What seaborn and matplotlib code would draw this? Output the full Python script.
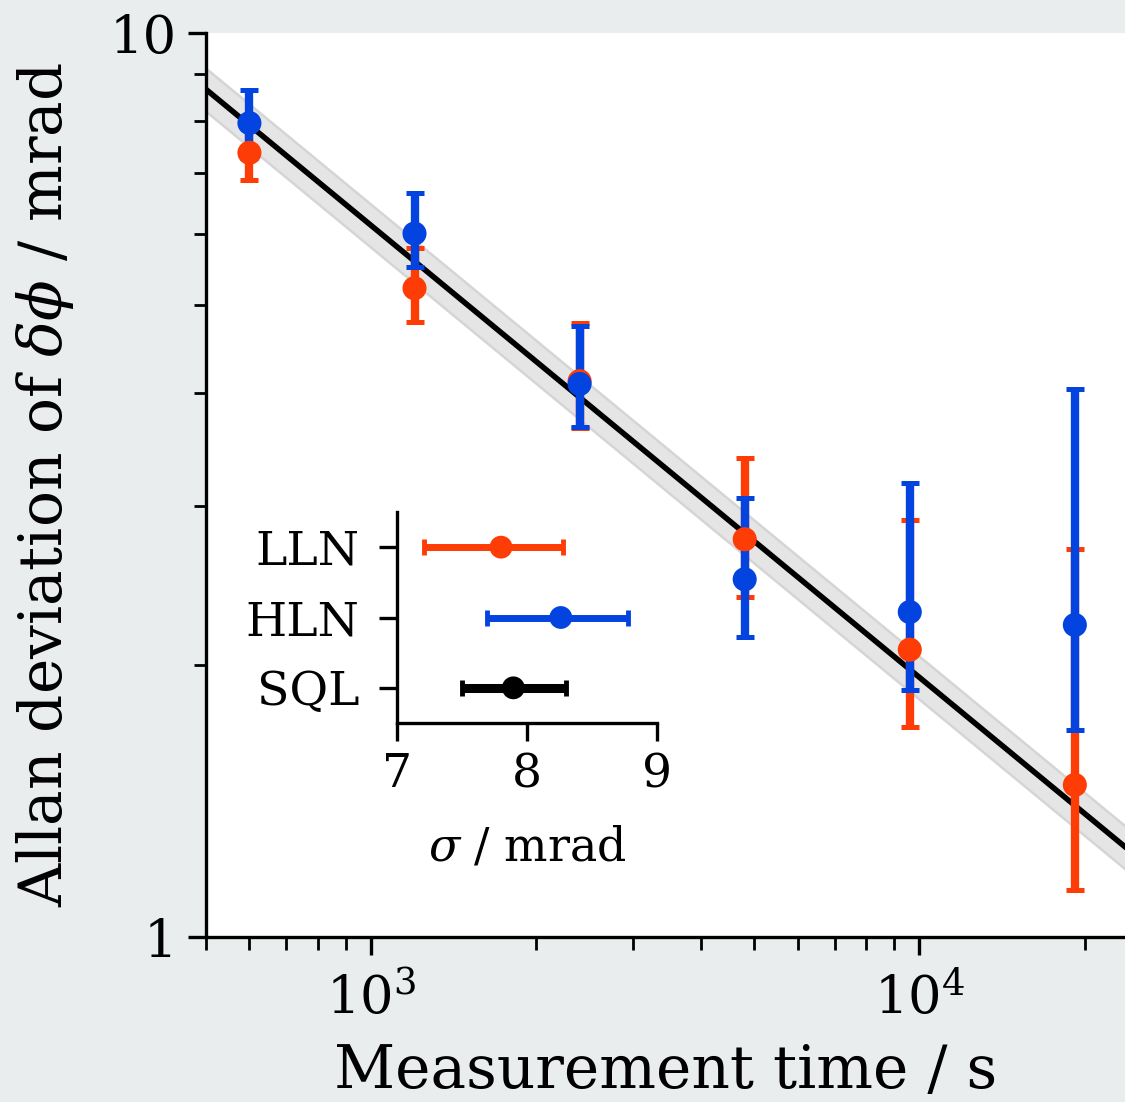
import numpy as np
import pandas as pd
import matplotlib
matplotlib.use("Agg")
import matplotlib.pyplot as plt
import matplotlib.ticker as mticker
import seaborn as sns

# ---------------- data ----------------
times = [600, 1200, 2400, 4800, 9600, 19200]

lln_dev = [7.37, 5.22, 4.12, 2.754, 2.079, 1.473]
lln_lo = [6.88, 4.79, 3.66, 2.380, 1.707, 1.128]
lln_hi = [7.90, 5.78, 4.78, 3.384, 2.892, 2.688]

hln_dev = [7.95, 6.00, 4.09, 2.487, 2.288, 2.214]
hln_lo = [7.28, 5.51, 3.665, 2.149, 1.876, 1.695]
hln_hi = [8.65, 6.65, 4.74, 3.056, 3.180, 4.040]

fit_amp = 193.7      # mrad * s^0.5  (SQL fit  A / sqrt(t))
fit_amp_err = 10.6

inset_labels = ["LLN", "HLN", "SQL"]
inset_sigma = [7.80, 8.26, 7.895]
inset_lo = [7.21, 7.69, 7.50]
inset_hi = [8.28, 8.78, 8.30]

RED = "#fd3c06"
BLUE = "#0343df"
BG = "#e9eded"

# ---------------- style ----------------
sns.set_theme(style="ticks")
plt.rcParams["font.family"] = ["DejaVu Serif"]
plt.rcParams["mathtext.fontset"] = "dejavuserif"
plt.rcParams["axes.linewidth"] = 2.4
plt.rcParams["xtick.major.width"] = 2.4
plt.rcParams["ytick.major.width"] = 2.4
plt.rcParams["xtick.minor.width"] = 2.0
plt.rcParams["ytick.minor.width"] = 2.0
plt.rcParams["axes.edgecolor"] = "black"
plt.rcParams["xtick.color"] = "black"
plt.rcParams["ytick.color"] = "black"
plt.rcParams["text.color"] = "black"
plt.rcParams["axes.labelcolor"] = "black"

fig = plt.figure(figsize=(11.25, 11.02), dpi=100, facecolor=BG)
ax = fig.add_axes([206 / 1125, (1102 - 937) / 1102, (1125 - 206) / 1125, (937 - 33) / 1102])
ax.set_facecolor("white")

# fit line and band
t_fit = np.geomspace(400, 30000, 200)
fit_df = pd.DataFrame({"t": t_fit, "dev": fit_amp / np.sqrt(t_fit)})
lo_band = (fit_amp - fit_amp_err) / np.sqrt(t_fit)
hi_band = (fit_amp + fit_amp_err) / np.sqrt(t_fit)
ax.fill_between(t_fit, lo_band, hi_band, color="#e5e5e5", lw=0, zorder=1)
ax.plot(t_fit, lo_band, color="#d5d5d5", lw=1.8, zorder=1.1)
ax.plot(t_fit, hi_band, color="#d5d5d5", lw=1.8, zorder=1.1)
sns.lineplot(data=fit_df, x="t", y="dev", color="black", lw=4.0, ax=ax, zorder=2)

# error bars
for dev, lo, hi, col in [(lln_dev, lln_lo, lln_hi, RED), (hln_dev, hln_lo, hln_hi, BLUE)]:
    dev = np.array(dev)
    yerr = [dev - np.array(lo), np.array(hi) - dev]
    ax.errorbar(times, dev, yerr=yerr, fmt="none", ecolor=col, elinewidth=6.0,
                capsize=6.5, capthick=3.6, zorder=3)

pts = pd.DataFrame({
    "t": times * 2,
    "dev": lln_dev + hln_dev,
    "kind": ["LLN"] * len(times) + ["HLN"] * len(times),
})
sns.scatterplot(data=pts, x="t", y="dev", hue="kind", palette={"LLN": RED, "HLN": BLUE},
                s=300, linewidth=0, legend=False, ax=ax, zorder=4)

ax.set_xscale("log")
ax.set_yscale("log")
ax.set_xlim(500, 23700)
ax.set_ylim(1, 10)
ax.yaxis.set_major_locator(mticker.FixedLocator([1, 10]))
ax.yaxis.set_major_formatter(mticker.FixedFormatter(["1", "10"]))
ax.yaxis.set_minor_locator(mticker.LogLocator(base=10, subs=np.arange(2, 10)))
ax.yaxis.set_minor_formatter(mticker.NullFormatter())
ax.xaxis.set_minor_formatter(mticker.NullFormatter())
ax.tick_params(which="major", length=13, direction="out", labelsize=38, pad=8)
ax.tick_params(axis="x", which="major", pad=13)
ax.tick_params(which="minor", length=9, direction="out")
sns.despine(ax=ax)
ax.set_xlabel("Measurement time / s", fontsize=43, labelpad=12)
ax.set_ylabel(r"Allan deviation of $\delta\phi$ / mrad", fontsize=43, labelpad=24)

# inset
ins = fig.add_axes([397 / 1125, (1102 - 723) / 1102, (657 - 397) / 1125, (723 - 512) / 1102])
ins.set_facecolor("none")
ypos = np.arange(len(inset_labels))
sig = np.array(inset_sigma)
cols = [RED, BLUE, "black"]
lws = [5.0, 5.0, 6.5]
for i in range(len(inset_labels)):
    ins.errorbar([sig[i]], [ypos[i]],
                 xerr=[[sig[i] - inset_lo[i]], [inset_hi[i] - sig[i]]],
                 fmt="none", ecolor=cols[i], elinewidth=lws[i], capsize=6, capthick=3.5, zorder=2)
inset_df = pd.DataFrame({"sigma": inset_sigma, "y": ypos, "label": inset_labels})
sns.scatterplot(data=inset_df, x="sigma", y="y", hue="label",
                palette={"LLN": RED, "HLN": BLUE, "SQL": "black"},
                s=270, linewidth=0, legend=False, ax=ins, zorder=3)
ins.set_xlim(7, 9)
ins.set_ylim(2.5, -0.5)
ins.set_xticks([7, 8, 9])
ins.set_yticks(ypos)
ins.set_yticklabels(inset_labels)
ins.tick_params(which="major", length=13, direction="out", labelsize=34, pad=8)
ins.tick_params(axis="y", which="major", pad=14)
ins.set_xlabel(r"$\sigma$ / mrad", fontsize=33, labelpad=20)
ins.set_ylabel("")
sns.despine(ax=ins)

fig.savefig("out.png", dpi=100, facecolor=BG)
